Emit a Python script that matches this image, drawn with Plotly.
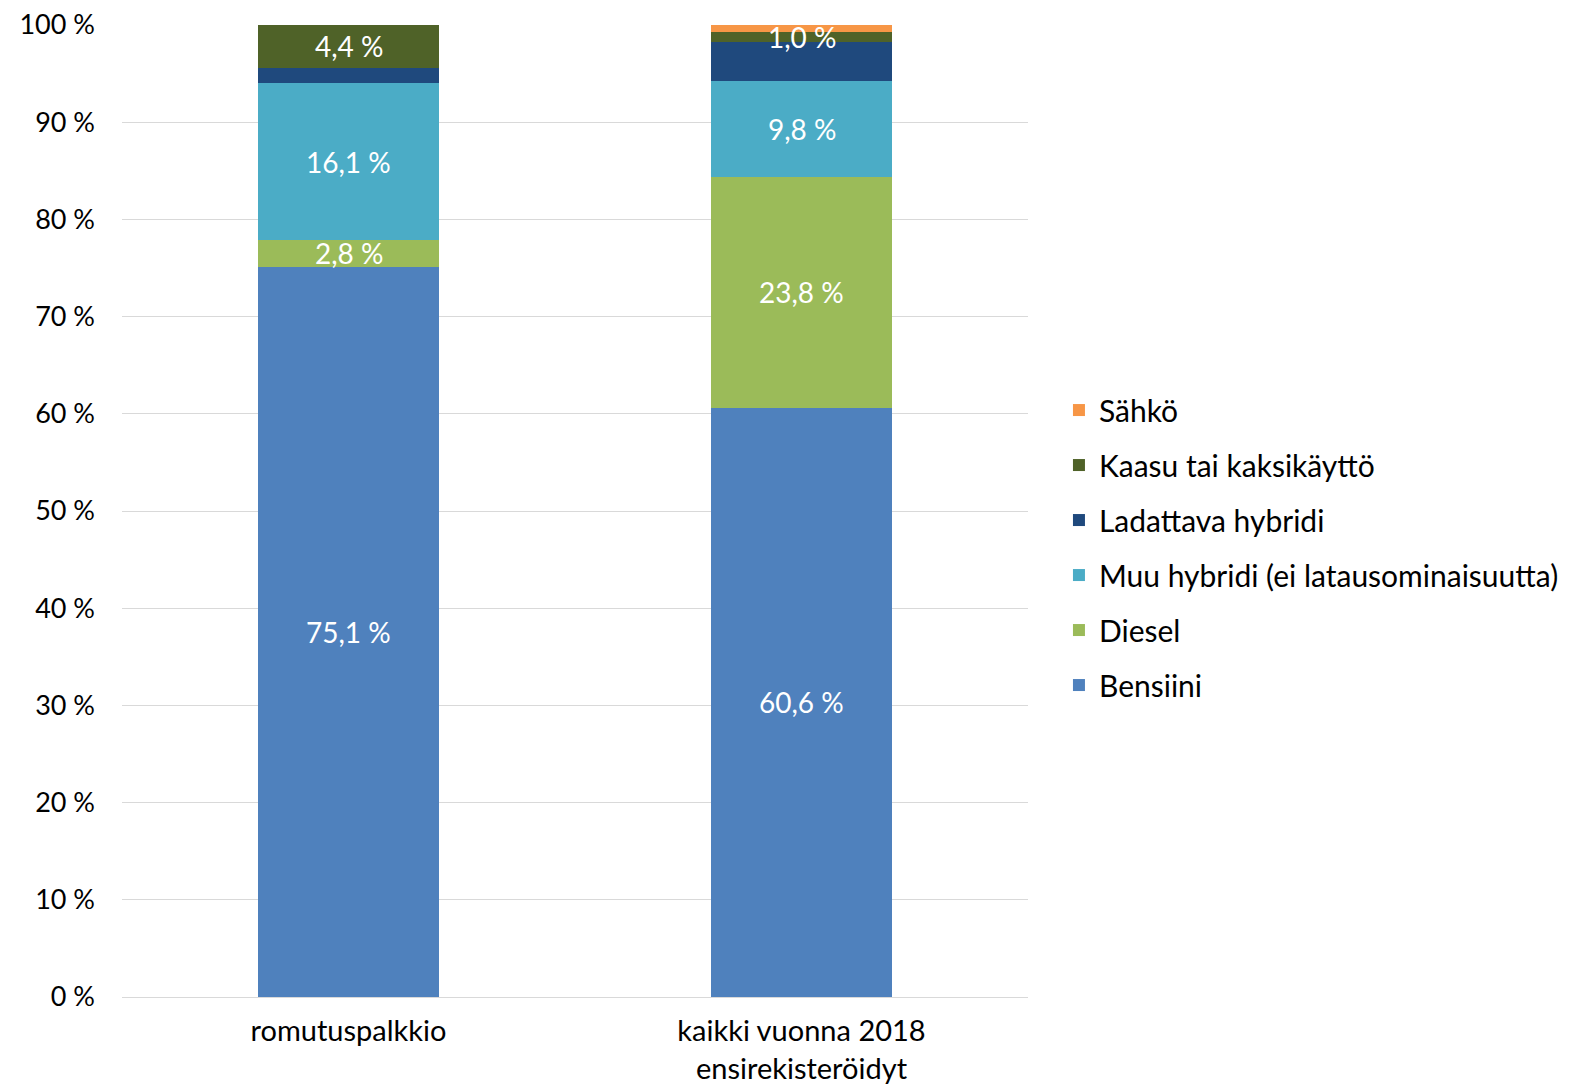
import plotly.graph_objects as go

categories = ["romutuspalkkio", "kaikki vuonna 2018<br>ensirekisteröidyt"]
series_names = ["Bensiini", "Diesel", "Muu hybridi (ei latausominaisuutta)",
                "Ladattava hybridi", "Kaasu tai kaksikäyttö", "Sähkö"]
bensiini = [75.1, 60.6]
diesel = [2.8, 23.8]
muu_hybridi = [16.1, 9.8]
ladattava = [1.6, 4.1]
kaasu = [4.4, 1.0]
sahko = [0.0, 0.7]
# which segments carry a data label
show_label = [True, True, True, False, True, False]
colors = ["#4F81BD", "#9BBB59", "#4BACC6", "#1F497D", "#4F6228", "#F79646"]
y_ticks = [0, 10, 20, 30, 40, 50, 60, 70, 80, 90, 100]
y_tick_text = [f"{v} %" for v in y_ticks]

FONT = "Lato"
values = [bensiini, diesel, muu_hybridi, ladattava, kaasu, sahko]

fig = go.Figure()
n = len(series_names)
for k, (name, vals, col) in enumerate(zip(series_names, values, colors)):
    fig.add_trace(go.Bar(
        x=categories, y=vals, name=name, marker=dict(color=col, line=dict(width=0)),
        legendgroup=name, legendrank=n - k, hoverinfo="name+y",
    ))

# data labels drawn on top of all bars (centre of each labelled segment)
base = [0.0] * len(categories)
for vals, show in zip(values, show_label):
    for i, v in enumerate(vals):
        if show:
            fig.add_annotation(
                x=categories[i], y=base[i] + v / 2, xref="x", yref="y",
                text=f"{v:.1f} %".replace(".", ","), showarrow=False,
                font=dict(color="white", size=28, family=FONT),
            )
        base[i] += v

fig.update_layout(
    barmode="stack", bargap=0.6,
    width=1570, height=1088,
    margin=dict(l=114, r=550, t=17, b=99, autoexpand=False),
    paper_bgcolor="white", plot_bgcolor="white",
    font=dict(family=FONT, size=28, color="#000000"),
    legend=dict(traceorder="grouped", xref="container", yref="container",
                x=0.6694, xanchor="left", y=0.5041, yanchor="middle",
                font=dict(size=30, family=FONT, color="#000000"),
                tracegroupgap=13, itemwidth=30, bgcolor="rgba(0,0,0,0)"),
)
fig.update_yaxes(range=[0, 100], tickmode="array", tickvals=y_ticks, ticktext=y_tick_text,
                 showgrid=True, gridcolor="#D9D9D9", gridwidth=1.3, automargin=False,
                 zeroline=False, showline=False, ticks="", ticklen=0, ticklabelstandoff=26,
                 ticklabeloverflow="allow",
                 tickfont=dict(size=27, family=FONT, color="#000000"))
fig.update_xaxes(showline=True, linecolor="#D9D9D9", linewidth=1.3, ticks="", automargin=False,
                 ticklabelstandoff=8, ticklabeloverflow="allow",
                 tickfont=dict(size=29, family=FONT, color="#000000"))

fig.write_html("out.html")
